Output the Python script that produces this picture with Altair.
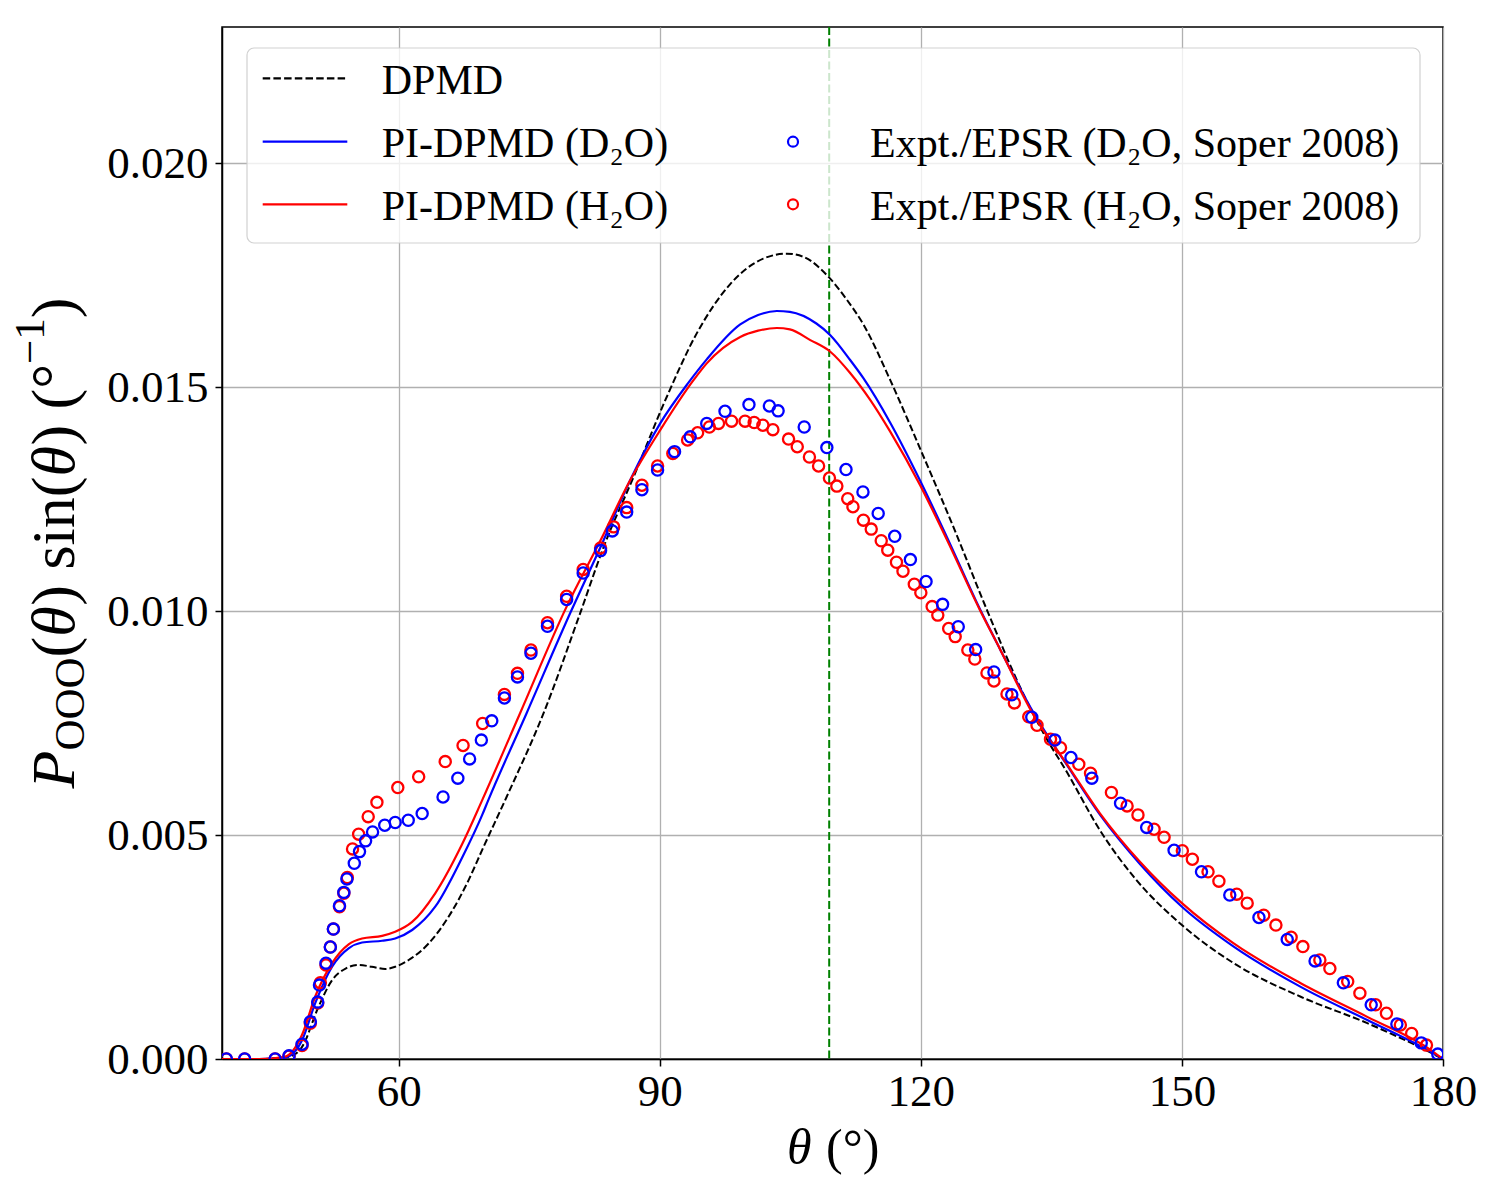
import altair as alt
import pandas as pd

# ---------------- data ----------------
dpmd_x = [39.7, 44.0, 46.0, 47.4, 48.9, 50.8, 52.35, 53.9, 55.4, 56.9, 58.45, 59.6, 61.15, 63.45,
          65.75, 68.05, 69.6, 72.4, 76.65, 80.85, 83.55, 87.0, 90.8, 94.25, 98.1, 101.9, 104.6,
          106.5, 109.4, 111.5, 113.4, 116.5, 120.0, 123.8, 127.65, 131.9, 134.1, 136.8, 140.6,
          144.45, 150.0, 155.95, 163.65, 171.3, 178.2, 180.0]
dpmd_y = [0.0, 0.0, 0.00002, 0.00005, 0.00027, 0.00117, 0.00176, 0.00202, 0.0021, 0.00206, 0.00201,
          0.00206, 0.00221, 0.00258, 0.00318, 0.004, 0.00467, 0.00585, 0.00772, 0.00995, 0.01143,
          0.013, 0.01478, 0.0162, 0.0173, 0.01787, 0.01798, 0.01791, 0.01746, 0.01695, 0.0164,
          0.01515, 0.01359, 0.01185, 0.0100, 0.0081, 0.00727, 0.0064, 0.0051, 0.00407, 0.00299,
          0.00214, 0.00139, 0.0008, 0.00018, 0.0]

pi_d2o_x = [39.7, 44.0, 46.9, 48.9, 50.4, 52.35, 54.25, 55.8, 58.1, 59.6, 61.55, 64.2, 67.3, 69.6,
            70.3, 74.7, 79.7, 83.2, 86.6, 90.05, 93.3, 95.4, 99.25, 101.3, 103.45, 104.95, 108.0,
            109.6, 111.9, 113.4, 116.5, 119.95, 123.0, 126.8, 129.1, 132.95, 136.8, 140.6, 145.2,
            150.0, 155.95, 163.65, 171.3, 178.6, 180.0]
pi_d2o_y = [0.0, 0.0, 0.00003, 0.00042, 0.00124, 0.00206, 0.00247, 0.0026, 0.00264, 0.00269,
            0.00288, 0.0034, 0.0045, 0.00545, 0.00578, 0.00772, 0.00995, 0.01143, 0.01292, 0.01419,
            0.0151, 0.01562, 0.0164, 0.01661, 0.0167, 0.01668, 0.01642, 0.01616, 0.0156, 0.0152,
            0.0142, 0.0129, 0.01165, 0.01004, 0.00915, 0.00773, 0.00656, 0.00545, 0.00435, 0.0034,
            0.00251, 0.00161, 0.00087, 0.00016, 0.0]

pi_h2o_x = [39.7, 44.0, 46.9, 48.9, 50.4, 52.35, 54.25, 55.8, 58.1, 59.6, 61.55, 64.2, 67.3, 69.6,
            73.95, 79.3, 83.2, 86.6, 90.05, 93.9, 95.4, 99.25, 101.3, 103.45, 104.95, 107.3, 109.6,
            111.9, 114.2, 116.5, 119.95, 123.0, 126.8, 129.1, 132.95, 136.8, 140.6, 145.2, 150.0,
            155.95, 163.65, 171.3, 178.6, 180.0]
pi_h2o_y = [0.0, 0.0, 0.00005, 0.00054, 0.00139, 0.00214, 0.00256, 0.00269, 0.00275, 0.00284,
            0.00306, 0.0037, 0.0048, 0.00578, 0.00772, 0.0101, 0.01158, 0.01292, 0.01404, 0.01516,
            0.01553, 0.01612, 0.01626, 0.01632, 0.01629, 0.01605, 0.01579, 0.01531, 0.01471,
            0.014, 0.0128, 0.01159, 0.01002, 0.00915, 0.00768, 0.00658, 0.00548, 0.0044,
            0.00348, 0.00258, 0.00169, 0.00094, 0.0002, 0.0]

expt_d2o_x = [40.2, 42.3, 45.8, 47.4, 48.9, 49.85, 50.7, 50.9, 51.65, 52.15, 52.5, 53.2, 53.7, 54.05,
              54.9, 55.5, 56.2, 57.0, 58.4, 59.6, 61.1, 62.7, 65.1, 66.8, 68.15, 69.5, 70.7, 72.15,
              73.65, 75.2, 77.1, 79.3, 81.2, 83.2, 84.55, 86.2, 87.95, 89.75, 91.7, 93.5, 95.4,
              97.5, 100.25, 102.6, 103.6, 106.6, 109.2, 111.4, 113.35, 115.1, 117.0, 118.8, 120.6,
              122.5, 124.3, 126.3, 128.4, 130.45, 132.75, 135.4, 137.25, 139.65, 142.95, 145.95,
              149.1, 152.25, 155.5, 158.85, 162.1, 165.3, 168.55, 171.75, 174.7, 177.5, 179.4]
expt_d2o_y = [0.0, 0.0, 0.0, 0.00007, 0.00033, 0.00083, 0.00127, 0.00165, 0.00214, 0.0025, 0.0029,
              0.00342, 0.00372, 0.00402, 0.00437, 0.00463, 0.00487, 0.00507, 0.00522, 0.00528,
              0.00533, 0.00548, 0.00585, 0.00627, 0.0067, 0.00712, 0.00755, 0.00806, 0.00853,
              0.00906, 0.00966, 0.01026, 0.01085, 0.01135, 0.01179, 0.01221, 0.01271, 0.01315,
              0.01356, 0.01389, 0.01419, 0.01446, 0.01461, 0.01458, 0.01447, 0.01411, 0.01365,
              0.01316, 0.01266, 0.01218, 0.01167, 0.01115, 0.01066, 0.01015, 0.00965, 0.00914,
              0.00864, 0.00813, 0.00763, 0.00712, 0.00673, 0.00627, 0.00571, 0.00517, 0.00466,
              0.00418, 0.00366, 0.00316, 0.00267, 0.00219, 0.0017, 0.00121, 0.00078, 0.00036,
              0.00011]

expt_h2o_x = [40.2, 42.3, 45.8, 47.4, 48.9, 49.85, 50.7, 51.0, 51.65, 52.15, 52.5, 53.2, 53.7, 54.1,
              54.7, 55.4, 56.5, 57.5, 59.9, 62.3, 65.35, 67.4, 69.65, 72.15, 73.65, 75.2, 77.1,
              79.3, 81.2, 83.2, 84.7, 86.2, 87.95, 89.75, 91.5, 93.2, 94.35, 95.7, 96.75, 98.25,
              99.8, 100.85, 101.85, 103.0, 104.8, 105.8, 107.2, 108.25, 109.5, 110.35, 111.6,
              112.2, 113.4, 114.3, 115.45, 116.2, 117.2, 117.95, 119.25, 120.0, 121.3, 121.95,
              123.2, 123.95, 125.4, 126.2, 127.6, 128.4, 129.9, 130.75, 132.4, 133.35, 134.9,
              136.05, 138.15, 139.5, 141.9, 143.7, 144.95, 146.8, 147.95, 150.05, 151.2, 153.0,
              154.25, 156.3, 157.5, 159.4, 160.8, 162.55, 163.9, 165.85, 167.0, 169.05, 170.45,
              172.25, 173.5, 175.1, 176.4, 178.1]
expt_h2o_y = [0.0, 0.0, 0.0, 0.00006, 0.0003, 0.0008, 0.00125, 0.0017, 0.0021, 0.0025, 0.0029,
              0.0034, 0.0037, 0.00405, 0.00469, 0.00502, 0.00541, 0.00573, 0.00606, 0.0063,
              0.00664, 0.007, 0.00749, 0.00814, 0.00861, 0.00913, 0.00974, 0.01033, 0.01093,
              0.01141, 0.01188, 0.01231, 0.01281, 0.01324, 0.01352, 0.01382, 0.01398, 0.01411,
              0.01419, 0.01424, 0.01424, 0.01421, 0.01415, 0.01405, 0.01384, 0.01367, 0.01344,
              0.01324, 0.01297, 0.01279, 0.01251, 0.01233, 0.01203, 0.01183, 0.01157, 0.01136,
              0.01109, 0.01089, 0.0106, 0.01041, 0.0101, 0.00991, 0.00961, 0.00943, 0.00913,
              0.00893, 0.00862, 0.00844, 0.00815, 0.00795, 0.00764, 0.00745, 0.00714, 0.00695,
              0.00658, 0.00638, 0.00595, 0.00565, 0.00545, 0.00513, 0.00495, 0.00465, 0.00446,
              0.00418, 0.00397, 0.00368, 0.00348, 0.00321, 0.00299, 0.00272, 0.00251, 0.00221,
              0.00202, 0.00173, 0.00147, 0.00121, 0.00102, 0.00076, 0.00057, 0.00031]

tetrahedral_angle = [109.47]
x_ticks = [60, 90, 120, 150, 180]
y_ticks = [0.0, 0.005, 0.010, 0.015, 0.020]
legend_left = ["DPMD", "PI-DPMD (D₂O)", "PI-DPMD (H₂O)"]
legend_right = ["Expt./EPSR (D₂O, Soper 2008)", "Expt./EPSR (H₂O, Soper 2008)"]

# ---------------- layout ----------------
FONT = "Liberation Serif"
W, H = 1221, 1032
PAD = {"left": 222, "top": 27, "right": 57, "bottom": 141}
BLUE, RED, GREEN = "#0000ff", "#ff0000", "#008000"

xs = alt.Scale(domain=[39.7, 180], nice=False, zero=False)
ys = alt.Scale(domain=[0, 0.02304], nice=False, zero=False)
x_ax = alt.Axis(values=x_ticks, format="d", title=None, labelFlush=False, labelPadding=3,
                labelOverlap=False)
y_ax = alt.Axis(values=y_ticks, format=".3f", title=None, labelPadding=7, labelOverlap=False)


def X(f):
    return alt.X(f, type="quantitative", scale=xs, axis=x_ax)


def Y(f):
    return alt.Y(f, type="quantitative", scale=ys, axis=y_ax)


one = pd.DataFrame({"k": [0]})

layers = []

# tetrahedral angle guide
layers.append(
    alt.Chart(pd.DataFrame({"t": tetrahedral_angle}))
    .mark_rule(color=GREEN, strokeWidth=2, strokeDash=[8, 3.5])
    .encode(x=X("t"))
)


def curve(xv, yv, color, dash=None, width=2.2):
    kw = dict(color=color, strokeWidth=width, interpolate="monotone", clip=True)
    if dash:
        kw["strokeDash"] = dash
    return alt.Chart(pd.DataFrame({"x": xv, "y": yv})).mark_line(**kw).encode(x=X("x"), y=Y("y"))


layers.append(curve(dpmd_x, dpmd_y, "black", dash=[7, 3], width=2))
layers.append(curve(pi_d2o_x, pi_d2o_y, BLUE))
layers.append(curve(pi_h2o_x, pi_h2o_y, RED))


def pts(xv, yv, color):
    return (alt.Chart(pd.DataFrame({"x": xv, "y": yv}))
            .mark_point(shape="circle", filled=False, color=color, size=125, strokeWidth=2.3,
                        opacity=1, clip=True)
            .encode(x=X("x"), y=Y("y")))


layers.append(pts(expt_h2o_x, expt_h2o_y, RED))
layers.append(pts(expt_d2o_x, expt_d2o_y, BLUE))

# ---------------- legend (drawn by hand, 2 columns) ----------------
layers.append(
    alt.Chart(one).mark_rect(fill="white", fillOpacity=0.8, stroke="#cccccc", strokeOpacity=0.9,
                             strokeWidth=1.2, cornerRadius=7)
    .encode(x=alt.value(25), x2=alt.value(1198), y=alt.value(21), y2=alt.value(216))
)
row_mid = [51.3, 114.7, 177.3]
row_base = [67, 130, 193]
line_styles = [("black", [7.5, 3.2]), (BLUE, None), (RED, None)]
for i, (lab, (col, dash)) in enumerate(zip(legend_left, line_styles)):
    kw = dict(color=col, strokeWidth=2.2)
    if dash:
        kw["strokeDash"] = dash
    layers.append(alt.Chart(one).mark_rule(**kw).encode(
        x=alt.value(40.7), x2=alt.value(125.3), y=alt.value(row_mid[i])))
    layers.append(alt.Chart(one).mark_text(text=lab, font=FONT, fontSize=42, align="left",
                                           baseline="alphabetic", color="black")
                  .encode(x=alt.value(159.7), y=alt.value(row_base[i])))
for j, (lab, col) in enumerate(zip(legend_right, [BLUE, RED])):
    layers.append(alt.Chart(one).mark_point(shape="circle", filled=False, color=col, size=100,
                                            strokeWidth=2.2, opacity=1)
                  .encode(x=alt.value(571), y=alt.value(row_mid[j + 1])))
    layers.append(alt.Chart(one).mark_text(text=lab, font=FONT, fontSize=42, align="left",
                                           baseline="alphabetic", color="black")
                  .encode(x=alt.value(648), y=alt.value(row_base[j + 1])))

# ---------------- axis titles (rich text assembled from pieces) ----------------
F, S = 62, 43
# (text, italic, size, baseline x, advance width)
ytitle = [
    ("P", True, F, -148, 0.611 * F),
    ("OOO", False, S, -138, 3 * 0.722 * S),
    ("(", False, F, -148, 0.333 * F),
    ("θ", True, F, -148, 0.5 * F),
    (") sin(", False, F, -148, 2.083 * F),
    ("θ", True, F, -148, 0.5 * F),
    (") (°", False, F, -148, 1.316 * F),
    ("−1", False, S, -178, 1.064 * S),
    (")", False, F, -148, 0.333 * F),
]
total = sum(p[4] for p in ytitle)
ypos = H / 2 + total / 2
for txt, ital, size, bx, adv in ytitle:
    kw = dict(text=txt, font=FONT, fontSize=size, angle=270, align="left", baseline="alphabetic",
              color="black")
    if ital:
        kw["fontStyle"] = "italic"
    layers.append(alt.Chart(one).mark_text(**kw).encode(x=alt.value(bx), y=alt.value(ypos)))
    ypos -= adv

XF = 50
# (text, italic, left x in plot coordinates)
xtitle = [("θ", True, 565), ("(°)", False, 604)]
for txt, ital, xl in xtitle:
    kw = dict(text=txt, font=FONT, fontSize=XF, align="left", baseline="alphabetic", color="black")
    if ital:
        kw["fontStyle"] = "italic"
    layers.append(alt.Chart(one).mark_text(**kw).encode(x=alt.value(xl), y=alt.value(H + 105)))

chart = (
    alt.layer(*layers)
    .properties(width=W, height=H, padding=PAD, autosize=alt.AutoSizeParams(type="none"),
                background="white")
    .configure_view(stroke="black", strokeWidth=1.5)
    .configure_axis(labelFont=FONT, labelFontSize=45, labelColor="black", domainColor="black",
                    domainWidth=1.5, tickColor="black", tickWidth=1.5, tickSize=7,
                    gridColor="#b0b0b0", gridWidth=1.3, grid=True)
)

chart.save("out.html", embed_options={"renderer": "svg", "actions": False})
